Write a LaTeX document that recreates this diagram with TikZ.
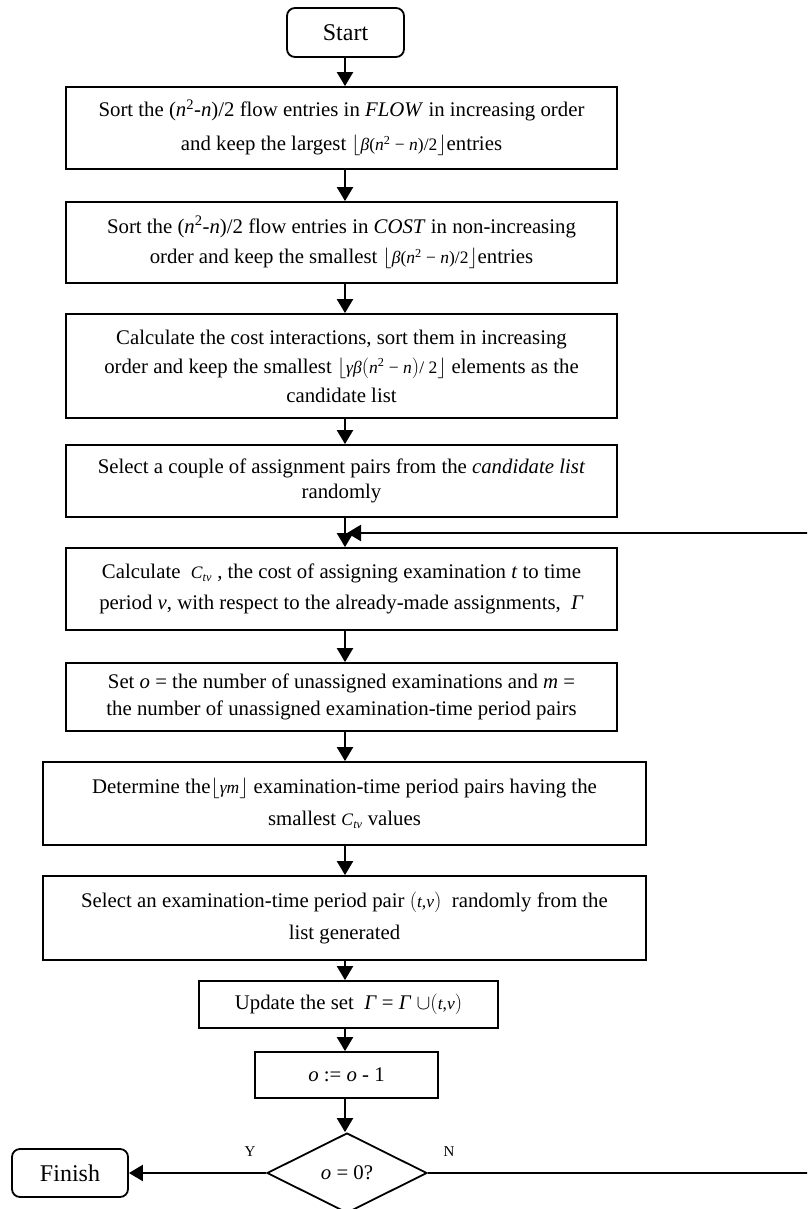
\documentclass[tikz,border=0pt]{standalone}
\usepackage{fontspec}
\setmainfont{Liberation Serif}
\usetikzlibrary{arrows.meta,shapes.geometric}

% helpers for the inline formulas
\newcommand{\vi}[1]{\textit{#1}}
\newcommand{\smm}{\fontsize{17.5}{20}\selectfont}
\newcommand{\flr}[1]{$\Bigl\lfloor\mbox{\smm #1}\Bigr\rfloor$}
\newcommand{\Ctv}{{\smm\vi{C}\textsubscript{\vi{tv}}}}
\newcommand{\bodyfont}[1]{\fontsize{20.8}{#1}\selectfont}

\begin{document}
\begin{tikzpicture}[x=1pt,y=-1pt,
  box/.style={draw, line width=1.8pt, inner sep=0pt, align=center,
              font=\bodyfont{30}},
  term/.style={box, rounded corners=8pt, font=\fontsize{24}{28}\selectfont},
  dec/.style={draw, line width=1.8pt, diamond, aspect=2, inner sep=0pt,
              minimum width=160pt, minimum height=80pt, font=\bodyfont{24}},
  flow/.style={line width=2.2pt, -{Triangle[length=14pt,width=16pt]}},
  lbl/.style={font=\fontsize{15}{18}\selectfont}]

\clip (0,0) rectangle (807,1209);
\fill[white] (0,0) rectangle (807,1209);

% common vertical axis of the main flow
\coordinate (ax) at (345,0);

\node[term, minimum width=117pt, minimum height=49pt] (start) at (345.5,32.5) {Start};

\node[box, minimum width=551pt, minimum height=82pt, font=\bodyfont{34}] (b1) at (341.5,128)
  {Sort the (\vi{n}\textsuperscript{2}-\vi{n})/2 flow entries in \vi{FLOW} in increasing order\\
   and keep the largest \flr{\vi{β}(\vi{n}\textsuperscript{2} − \vi{n})/2}entries};

\node[box, minimum width=551pt, minimum height=81pt] (b2) at (341.5,242.5)
  {Sort the (\vi{n}\textsuperscript{2}-\vi{n})/2 flow entries in \vi{COST} in non-increasing\\
   order and keep the smallest \flr{\vi{β}(\vi{n}\textsuperscript{2} − \vi{n})/2}entries};

\node[box, minimum width=551pt, minimum height=104pt, font=\bodyfont{29}] (b3) at (341.5,366)
  {Calculate the cost interactions, sort them in increasing\\
   order and keep the smallest $\Bigl\lfloor\mbox{\smm\vi{γβ}}\bigl(\mbox{\smm\vi{n}\textsuperscript{2} − \vi{n}}\bigr)\mbox{\smm/ 2}\Bigr\rfloor$ elements as the\\
   candidate list};

\node[box, minimum width=551pt, minimum height=72pt, font=\bodyfont{25}] (b4) at (341.5,481)
  {Select a couple of assignment pairs from the \vi{candidate list}\\ randomly};

\node[box, minimum width=551pt, minimum height=82pt, font=\bodyfont{31}] (b5) at (341.5,589)
  {Calculate \ \Ctv\ , the cost of assigning examination \vi{t} to time\\
   period \vi{v}, with respect to the already-made assignments, \ \vi{Γ}};

\node[box, minimum width=551pt, minimum height=68pt, font=\bodyfont{27}] (b6) at (341.5,697)
  {Set \vi{o} = the number of unassigned examinations and \vi{m} =\\
   the number of unassigned examination-time period pairs};

\node[box, minimum width=603pt, minimum height=83pt, font=\bodyfont{32}] (b7) at (344.5,803.5)
  {Determine the\flr{\vi{γm}} examination-time period pairs having the\\
   smallest \Ctv\ values};

\node[box, minimum width=603pt, minimum height=84pt, font=\bodyfont{32}] (b8) at (344.5,918)
  {Select an examination-time period pair $\bigl(\mbox{\smm\vi{t},\vi{v}}\bigr)$ \ randomly from the\\
   list generated};

\node[box, minimum width=299pt, minimum height=47pt] (b9) at (348.5,1004.5)
  {Update the set \ \vi{Γ} = \vi{Γ} $\cup$$\Bigl(\mbox{\smm\vi{t},\vi{v}}\Bigr)$};

\node[box, minimum width=183pt, minimum height=46pt] (b10) at (346.5,1075)
  {\vi{o} := \vi{o} - 1};

\node[dec] (dia) at (347,1173) {\vi{o} = 0?};

\node[term, minimum width=116pt, minimum height=48pt] (fin) at (70,1173) {Finish};

\node[lbl] (ylab) at (250,1152) {Y};
\node[lbl] (nlab) at (449,1152) {N};

% main downward flow
\draw[flow] (start.south -| ax) -- (b1.north -| ax);
\draw[flow] (b1.south -| ax) -- (b2.north -| ax);
\draw[flow] (b2.south -| ax) -- (b3.north -| ax);
\draw[flow] (b3.south -| ax) -- (b4.north -| ax);
\draw[flow] (b4.south -| ax) -- (b5.north -| ax);
\draw[flow] (b5.south -| ax) -- (b6.north -| ax);
\draw[flow] (b6.south -| ax) -- (b7.north -| ax);
\draw[flow] (b7.south -| ax) -- (b8.north -| ax);
\draw[flow] (b8.south -| ax) -- (b9.north -| ax);
\draw[flow] (b9.south -| ax) -- (b10.north -| ax);
\draw[flow] (b10.south -| ax) -- (dia.north -| ax);

% exit on yes, loop back on no
\draw[flow] (dia.west) -- (fin.east);
\coordinate (rt) at (810,533);
\coordinate (jn) at (347,533);
\draw[flow] (dia.east) -| (rt) -- (jn);

\end{tikzpicture}
\end{document}
